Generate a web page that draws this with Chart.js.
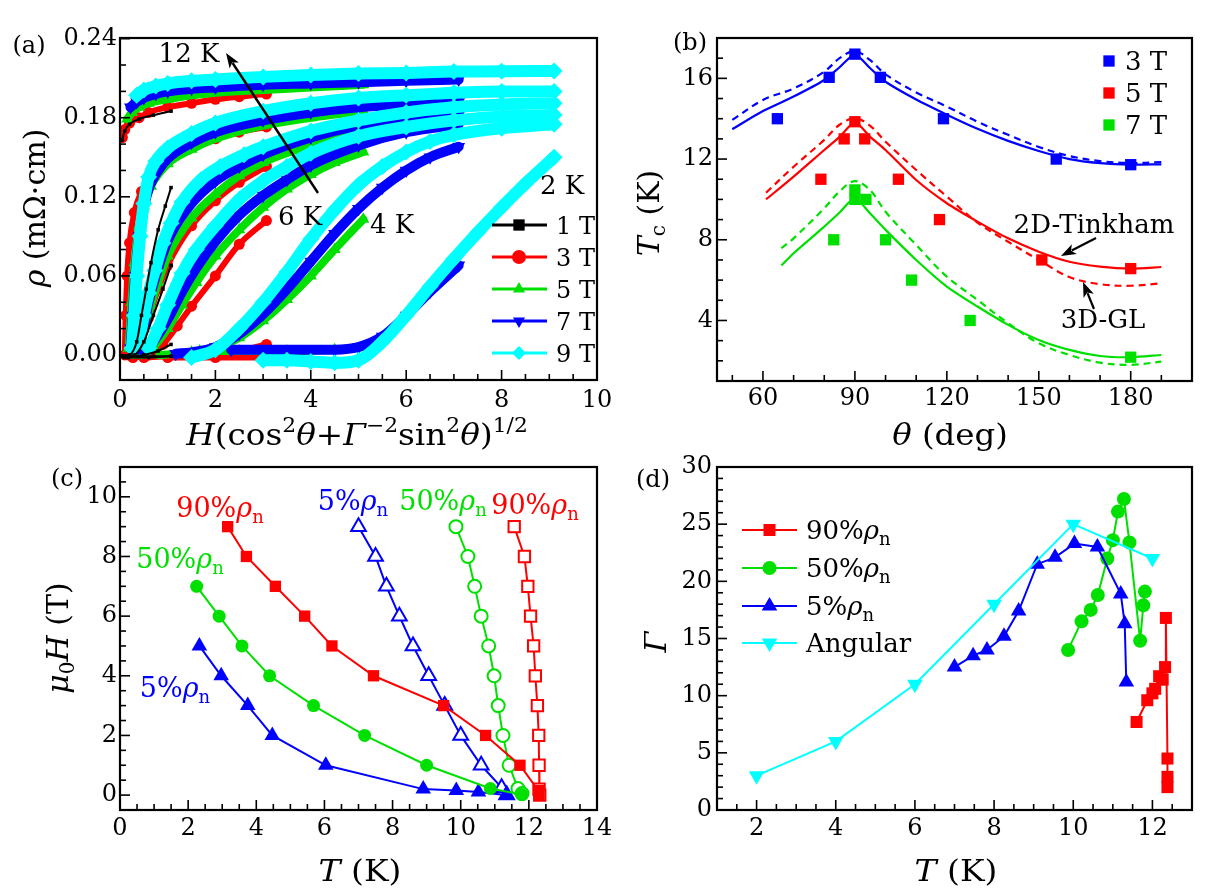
<!DOCTYPE html>
<html>
<head>
<meta charset="utf-8">
<title>Figure</title>
<script src="https://cdn.jsdelivr.net/npm/chart.js@4.4.1/dist/chart.umd.min.js"></script>
<style>
html,body{margin:0;padding:0;background:#fff;}
#wrap{position:relative;width:1222px;height:893px;overflow:hidden;background:#fff;}
#wrap canvas{position:absolute;left:0;top:0;}
</style>
</head>
<body>
<div id="wrap">
  <canvas id="ca" width="1222" height="893"></canvas>
  <canvas id="cb" width="1222" height="893"></canvas>
  <canvas id="cc" width="1222" height="893"></canvas>
  <canvas id="cd" width="1222" height="893"></canvas>
</div>
<script>
// ================= DATA =================
// ---- Panel (a): rho (mOhm cm) vs H(cos^2 + G^-2 sin^2)^1/2, at several temperatures, fields 1,3,5,7,9 T
const aTicksX = [0, 2, 4, 6, 8, 10];
const aTicksY = [0, 0.06, 0.12, 0.18, 0.24];

const a12K_1T = [[0.045,0.163],[0.1,0.170],[0.2,0.175],[0.4,0.179],[0.7,0.182],[1.07,0.185]];
const a12K_3T = [[0.05,0.165],[0.1,0.171],[0.2,0.176],[0.4,0.180],[0.6,0.184],[1,0.188],[1.5,0.191],[2,0.194],[2.5,0.196],[3.07,0.198]];
const a12K_5T = [[0.15,0.179],[0.25,0.184],[0.4,0.188],[0.6,0.191],[1,0.194],[1.5,0.197],[2,0.199],[3,0.201],[4,0.203],[5.1,0.205]];
const a12K_7T = [[0.22,0.188],[0.35,0.192],[0.5,0.195],[0.75,0.198],[1,0.200],[1.5,0.202],[2,0.203],[3,0.205],[4,0.206],[5,0.207],[6,0.208],[7.1,0.209]];
const a12K_9T = [[0.35,0.197],[0.5,0.201],[0.75,0.204],[1,0.206],[1.5,0.208],[2,0.209],[3,0.211],[4,0.2125],[5,0.2135],[6,0.214],[7,0.215],[8,0.2152],[9.1,0.2155]];

const a10K_1T = [[0.04,-0.001],[0.2,0.0],[0.35,0.01],[0.45,0.03],[0.55,0.05],[0.65,0.07],[0.8,0.095],[0.95,0.113],[1.07,0.127]];
const a10K_3T = [[0.1,0.0],[0.12,0.03],[0.15,0.06],[0.2,0.085],[0.3,0.108],[0.45,0.124],[0.7,0.138],[1,0.148],[1.5,0.158],[2,0.164],[2.5,0.169],[3.07,0.173]];
const a10K_5T = [[0.18,0.005],[0.24,0.04],[0.3,0.07],[0.4,0.098],[0.5,0.113],[0.65,0.128],[1,0.145],[1.5,0.156],[2,0.164],[3,0.174],[4,0.180],[5.1,0.185]];
const a10K_7T = [[0.22,0.005],[0.27,0.03],[0.32,0.06],[0.4,0.09],[0.5,0.112],[0.62,0.128],[0.8,0.140],[1,0.149],[1.5,0.161],[2,0.169],[3,0.178],[4,0.184],[5,0.188],[6,0.190],[7.1,0.192]];
const a10K_9T = [[0.25,0.005],[0.3,0.03],[0.35,0.06],[0.42,0.09],[0.5,0.115],[0.6,0.135],[0.75,0.147],[1,0.157],[1.5,0.168],[2,0.176],[3,0.185],[4,0.191],[5,0.195],[6,0.197],[7,0.199],[8,0.200],[9.1,0.200]];

const a8K_1T = [[0.056,-0.001],[0.3,0.0],[0.5,0.01],[0.7,0.03],[0.9,0.05],[1.07,0.068]];
const a8K_3T = [[0.17,0.0],[0.3,0.003],[0.45,0.012],[0.6,0.028],[0.8,0.05],[1,0.068],[1.5,0.098],[2,0.117],[2.5,0.131],[3.07,0.143]];
const a8K_5T = [[0.28,0.0],[0.4,0.01],[0.5,0.02],[0.65,0.038],[0.8,0.055],[1,0.075],[1.5,0.104],[2,0.122],[2.5,0.136],[3,0.146],[4,0.159],[5.1,0.168]];
const a8K_7T = [[0.39,0.005],[0.5,0.022],[0.6,0.04],[0.75,0.06],[0.9,0.077],[1.07,0.092],[1.5,0.115],[2,0.132],[2.5,0.143],[3,0.152],[4,0.165],[5,0.174],[6,0.179],[7.1,0.182]];
const a8K_9T = [[0.4,0.01],[0.5,0.03],[0.6,0.047],[0.73,0.064],[0.9,0.085],[1.07,0.100],[1.3,0.116],[1.7,0.133],[2.1,0.143],[2.6,0.152],[3,0.158],[4,0.170],[5,0.178],[6,0.184],[7,0.188],[8,0.190],[9.1,0.191]];

const a6K_1T = [[0.09,-0.002],[0.5,0.0],[0.8,0.003],[1.07,0.008]];
const a6K_3T = [[0.27,-0.002],[0.6,0.0],[0.9,0.008],[1.2,0.022],[1.5,0.037],[2,0.06],[2.5,0.084],[3.07,0.102]];
const a6K_5T = [[0.45,0.0],[0.7,0.006],[1,0.02],[1.3,0.038],[1.6,0.055],[2,0.075],[2.5,0.095],[3,0.112],[3.5,0.126],[4,0.137],[4.5,0.146],[5.1,0.154]];
const a6K_7T = [[0.5,0.003],[0.7,0.01],[1,0.027],[1.3,0.048],[1.6,0.066],[2,0.086],[2.5,0.106],[3,0.121],[3.5,0.133],[4,0.144],[5,0.159],[6,0.169],[7.1,0.175]];
const a6K_9T = [[0.6,0.005],[0.8,0.02],[1,0.038],[1.3,0.062],[1.6,0.08],[2,0.098],[2.5,0.118],[3,0.132],[3.5,0.143],[4,0.153],[5,0.166],[6,0.173],[7,0.178],[8,0.181],[9.1,0.182]];

const a4K_1T = [[0.17,-0.002],[0.6,-0.002],[1.07,-0.001]];
const a4K_3T = [[0.5,-0.002],[1.5,0.0],[2,0.001],[2.5,0.003],[3.07,0.008]];
const a4K_5T = [[0.83,0.0],[1.5,0.002],[2,0.005],[2.5,0.013],[3,0.026],[3.5,0.042],[4,0.060],[4.5,0.080],[5.1,0.103]];
const a4K_7T = [[1.17,0.001],[1.5,0.002],[2,0.006],[2.5,0.016],[3,0.031],[3.5,0.050],[4,0.071],[4.5,0.092],[5,0.111],[5.5,0.127],[6,0.140],[6.5,0.150],[7.1,0.158]];
const a4K_9T = [[1.5,-0.002],[2,0.004],[2.5,0.020],[3,0.040],[3.5,0.063],[4,0.088],[4.5,0.110],[5,0.129],[5.5,0.143],[6,0.154],[6.5,0.162],[7,0.167],[8,0.172],[9.1,0.175]];

const a2K_1T = [[0.33,-0.001],[0.7,-0.001],[1.07,-0.001]];
const a2K_3T = [[1.0,-0.002],[2,-0.002],[3.07,-0.002]];
const a2K_5T = [[1.67,0.003],[2.5,0.003],[3.5,0.003],[4.5,0.004],[5.1,0.006]];
const a2K_7T = [[2.33,0.004],[3,0.004],[4,0.004],[4.5,0.004],[5,0.006],[5.5,0.014],[6,0.030],[6.5,0.048],[7.1,0.068]];
const a2K_9T = [[3.0,-0.004],[3.5,-0.004],[4,-0.005],[4.5,-0.006],[5,-0.004],[5.5,0.010],[6,0.030],[6.5,0.052],[7,0.073],[7.5,0.093],[8,0.112],[8.5,0.130],[9.1,0.150]];

// ---- Panel (b): Tc vs theta
const bTicksX = [60, 90, 120, 150, 180];
const bTicksY = [4, 8, 12, 16];
const b3T = [[64.7,14.0],[81.6,16.05],[90,17.2],[98.3,16.05],[118.9,14.0],[155.7,12.0],[180,11.72]];
const b5T = [[78.9,11.0],[86.5,13.0],[90,13.85],[93.2,13.0],[104.2,11.0],[117.6,9.0],[151,7.0],[180,6.57]];
const b7T = [[83.1,8.0],[90,10.47],[90,10.0],[93.6,10.0],[100,8.0],[108.5,6.0],[127.6,4.0],[180,2.18]];
const bThetaBlue   = [50,60,70,80,85,90,95,100,110,120,130,140,150,160,170,180,190];
const bBlueTinkham = [13.48,14.38,15.1,15.92,16.55,17.18,16.5,15.83,14.95,14.2,13.5,12.9,12.4,12.0,11.8,11.72,11.74];
const bBlueGL      = [13.94,14.93,15.5,16.33,17.0,17.35,16.9,16.2,15.3,14.6,13.85,13.2,12.6,12.15,11.9,11.8,11.85];
const bThetaRed    = [61,70,80,85,90,95,100,110,120,130,140,150,160,170,180,190];
const bRedTinkham  = [10.0,11.13,12.45,13.1,13.82,13.1,12.45,10.96,9.81,8.9,8.07,7.41,6.91,6.67,6.57,6.65];
const bRedGL       = [10.33,11.62,12.95,13.7,14.02,13.65,12.86,11.46,10.14,8.85,7.9,7.0,6.15,5.8,5.72,5.84];
const bThetaGreen  = [66,70,80,85,90,95,100,110,120,130,140,150,160,170,180,190];
const bGreenTinkham= [6.72,7.33,8.65,9.35,10.05,9.3,8.49,7.0,5.68,4.69,3.78,3.03,2.54,2.24,2.18,2.29];
const bGreenGL     = [7.58,8.07,9.56,10.4,10.91,10.45,9.39,7.74,6.17,5.02,3.86,2.87,2.29,1.91,1.8,1.96];

// ---- Panel (c): mu0H (T) vs T (K)
const cTicksX = [0, 2, 4, 6, 8, 10, 12, 14];
const cTicksY = [0, 2, 4, 6, 8, 10];
const c90Left  = [[3.16,9],[3.71,8],[4.56,7],[5.42,6],[6.22,5],[7.44,4],[9.5,3],[10.73,2],[11.74,1],[12.28,0.15],[12.3,0]];
const c50Left  = [[2.25,7],[2.91,6],[3.58,5],[4.39,4],[5.68,3],[7.18,2],[9.0,1],[10.87,0.22],[11.79,0.02]];
const c5Left   = [[2.33,5],[2.97,4],[3.75,3],[4.47,2],[6.04,1],[8.9,0.2],[9.87,0.15],[10.52,0.1],[11.33,0]];
const c5Right  = [[7.0,9],[7.5,8],[7.82,7],[8.2,6],[8.6,5],[9.06,4],[9.53,3],[10.0,2],[10.6,1],[11.2,0.25],[11.35,0]];
const c50Right = [[9.86,9],[10.21,8],[10.41,7],[10.6,6],[10.82,5],[10.98,4],[11.1,3],[11.24,2],[11.42,1],[11.68,0.22],[11.8,0.05]];
const c90Right = [[11.57,9],[11.87,8],[11.97,7],[12.05,6],[12.14,5],[12.19,4],[12.25,3],[12.29,2],[12.3,1],[12.3,0.2],[12.32,0]];

// ---- Panel (d): Gamma vs T (K)
const dTicksX = [2, 4, 6, 8, 10, 12];
const dTicksY = [0, 5, 10, 15, 20, 25, 30];
const d90  = [[11.6,7.7],[11.87,9.6],[12.0,10.2],[12.07,10.6],[12.17,11.7],[12.26,11.4],[12.32,12.5],[12.34,16.8],[12.38,4.5],[12.38,2.9],[12.38,2.0]];
const d50  = [[9.87,14.0],[10.21,16.5],[10.44,17.5],[10.62,18.8],[10.86,22.0],[11.0,23.6],[11.13,26.1],[11.28,27.2],[11.42,23.4],[11.69,14.8],[11.77,17.9],[11.81,19.1]];
const d5   = [[7.0,12.5],[7.47,13.5],[7.82,14.0],[8.25,15.2],[8.62,17.4],[9.09,21.5],[9.54,22.1],[10.03,23.3],[10.61,23.0],[11.2,18.9],[11.3,16.3],[11.34,11.2]];
const dAng = [[2,3],[4,6],[6,11],[8,18],[10,25],[12,22]];

// ================= STYLE / HELPERS =================
const FONT = '"DejaVu Serif", "Liberation Serif", serif';
const RED = '#ff0000', GREEN = '#00e000', BLUE = '#0000ff', CYAN = '#00ffff', BLACK = '#000000';
const TICKSIZE = 24, TITLESIZE = 30;
const W = 1222, H = 893;

function pts(arr){ return arr.map(p => ({x:p[0], y:p[1]})); }
function zipXY(xs, ys){ return xs.map((x,i) => ({x:x, y:ys[i]})); }
function fnt(size, it){ return (it ? 'italic ' : '') + size + 'px ' + FONT; }
function segSize(s, size){ return (s.sup || s.sub) ? Math.round(size*0.68) : size; }
function richWidth(ctx, segs, size){
  let w = 0;
  for (const s of segs){ ctx.font = fnt(segSize(s,size), s.it); w += ctx.measureText(s.t).width; }
  return w;
}
function rich(ctx, segs, x, y, size, o){
  o = o || {};
  ctx.save(); ctx.translate(x, y); if (o.rot) ctx.rotate(o.rot); if (o.sx) ctx.scale(o.sx, 1);
  const w = richWidth(ctx, segs, size);
  let cx = o.align === 'left' ? 0 : (o.align === 'right' ? -w : -w/2);
  ctx.textBaseline = 'alphabetic'; ctx.textAlign = 'left';
  const base = size*0.36;
  for (const s of segs){
    const sz = segSize(s, size);
    ctx.font = fnt(sz, s.it);
    ctx.fillStyle = s.c || o.c || '#000';
    let dy = base;
    if (s.sup) dy -= size*0.42;
    if (s.sub) dy += size*0.22;
    ctx.fillText(s.t, cx, dy);
    cx += ctx.measureText(s.t).width;
  }
  ctx.restore();
}
function arrow(ctx, x1, y1, x2, y2, o){
  o = o || {};
  const a = Math.atan2(y2-y1, x2-x1), L = o.L || 15, Wd = o.W || 5.5;
  ctx.save(); ctx.strokeStyle = '#000'; ctx.fillStyle = '#000'; ctx.lineWidth = o.lw || 2;
  ctx.beginPath(); ctx.moveTo(x1, y1); ctx.lineTo(x2 - Math.cos(a)*L*0.8, y2 - Math.sin(a)*L*0.8); ctx.stroke();
  ctx.beginPath(); ctx.moveTo(x2, y2);
  ctx.lineTo(x2 - Math.cos(a)*L + Math.sin(a)*Wd, y2 - Math.sin(a)*L - Math.cos(a)*Wd);
  ctx.lineTo(x2 - Math.cos(a)*L*0.75, y2 - Math.sin(a)*L*0.75);
  ctx.lineTo(x2 - Math.cos(a)*L - Math.sin(a)*Wd, y2 - Math.sin(a)*L + Math.cos(a)*Wd);
  ctx.closePath(); ctx.fill(); ctx.restore();
}
function marker(ctx, st, x, y, r, fill, stroke, lw){
  ctx.save(); ctx.beginPath();
  if (st === 'rect'){ const s = r*Math.SQRT1_2; ctx.rect(x-s, y-s, 2*s, 2*s); }
  else if (st === 'circle'){ ctx.arc(x, y, r, 0, Math.PI*2); }
  else if (st === 'tri' || st === 'triDown'){
    const sg = st === 'tri' ? 1 : -1;
    for (let k = 0; k < 3; k++){
      const an = k*2*Math.PI/3, px = x + Math.sin(an)*r, py = y - sg*Math.cos(an)*r;
      if (k) ctx.lineTo(px, py); else ctx.moveTo(px, py);
    }
    ctx.closePath();
  }
  else if (st === 'diamond'){ ctx.moveTo(x, y-r); ctx.lineTo(x+r, y); ctx.lineTo(x, y+r); ctx.lineTo(x-r, y); ctx.closePath(); }
  if (fill){ ctx.fillStyle = fill; ctx.fill(); }
  if (stroke){ ctx.strokeStyle = stroke; ctx.lineWidth = lw || 2; ctx.stroke(); }
  ctx.restore();
}
function drawFrameTicks(chart, sp){
  const ctx = chart.ctx, ca = chart.chartArea, xs = chart.scales.x, ys = chart.scales.y;
  ctx.save(); ctx.strokeStyle = '#000'; ctx.lineWidth = 1.6;
  const near = (v, m) => Math.abs(v/m - Math.round(v/m)) < 1e-6;
  for (let i = Math.ceil(xs.min/sp.xMinor - 1e-9); i*sp.xMinor <= xs.max + 1e-9; i++){
    const v = i*sp.xMinor, px = xs.getPixelForValue(v), len = near(v, sp.xMajor) ? 10 : 6;
    ctx.beginPath(); ctx.moveTo(px, ca.bottom); ctx.lineTo(px, ca.bottom - len); ctx.stroke();
  }
  for (let i = Math.ceil(ys.min/sp.yMinor - 1e-9); i*sp.yMinor <= ys.max + 1e-9; i++){
    const v = i*sp.yMinor, py = ys.getPixelForValue(v), len = near(v, sp.yMajor) ? 10 : 6;
    ctx.beginPath(); ctx.moveTo(ca.left, py); ctx.lineTo(ca.left + len, py); ctx.stroke();
  }
  ctx.lineWidth = 2.2;
  ctx.strokeRect(ca.left, ca.top, ca.right - ca.left, ca.bottom - ca.top);
  ctx.restore();
}
function deco(id, sp, draw){
  return { id: id, afterDraw(chart){ drawFrameTicks(chart, sp); draw(chart.ctx, chart); } };
}
function axisOpts(min, max, ticksArr, fmt, isX, size, pad){
  return {
    type: 'linear', min: min, max: max,
    grid: { display: false, drawTicks: false }, border: { display: false },
    afterBuildTicks: s => { s.ticks = ticksArr.map(v => ({ value: v })); },
    afterFit: s => {
      if (isX){ s.height = size; s.paddingLeft = 0; s.paddingRight = 0; }
      else { s.width = size; s.paddingTop = 0; s.paddingBottom = 0; }
    },
    ticks: { font: { family: FONT, size: TICKSIZE }, color: '#000', padding: pad, maxRotation: 0, minRotation: 0, autoSkip: false,
             callback: v => fmt(v) }
  };
}
// area = plot box [left, top, right, bottom] in page pixels; yw / xh = axis band sizes
function baseOptions(area, yw, xh, xAxis, yAxis){
  return {
    responsive: false, animation: false, events: [],
    layout: { padding: { left: area[0] - yw, top: area[1], right: W - area[2], bottom: H - area[3] - xh } },
    plugins: { legend: { display: false }, tooltip: { enabled: false }, title: { display: false } },
    scales: { x: xAxis, y: yAxis }
  };
}
const rhoN = (pre, c) => [{t: pre, c: c}, {t: 'ρ', it: true, c: c}, {t: 'n', sub: true, c: c}];

// ================= PANEL (a) =================
const aFieldStyle = [
  { lab: '1 T', c: BLACK, ps: 'rect',     rot: 0,   bw: 2,  r: 2.5, ord: 0, lm: 'rect' },
  { lab: '3 T', c: RED,   ps: 'circle',   rot: 0,   bw: 6,  r: 5.5, ord: 4, lm: 'circle' },
  { lab: '5 T', c: GREEN, ps: 'triangle', rot: 0,   bw: 8,  r: 7,   ord: 3, lm: 'tri' },
  { lab: '7 T', c: BLUE,  ps: 'triangle', rot: 180, bw: 10, r: 7.5, ord: 2, lm: 'triDown' },
  { lab: '9 T', c: CYAN,  ps: 'rectRot',  rot: 0,   bw: 12, r: 8.5, ord: 1, lm: 'diamond' }
];
const aCurves = [
  [a12K_1T, a12K_3T, a12K_5T, a12K_7T, a12K_9T],
  [a10K_1T, a10K_3T, a10K_5T, a10K_7T, a10K_9T],
  [a8K_1T,  a8K_3T,  a8K_5T,  a8K_7T,  a8K_9T],
  [a6K_1T,  a6K_3T,  a6K_5T,  a6K_7T,  a6K_9T],
  [a4K_1T,  a4K_3T,  a4K_5T,  a4K_7T,  a4K_9T],
  [a2K_1T,  a2K_3T,  a2K_5T,  a2K_7T,  a2K_9T]
];
const dsA = [];
aCurves.forEach(row => row.forEach((arr, i) => {
  const f = aFieldStyle[i];
  dsA.push({ label: f.lab, data: pts(arr), showLine: true, borderColor: f.c, backgroundColor: f.c,
    borderWidth: f.bw, pointRadius: f.r, pointStyle: f.ps, pointRotation: f.rot, pointBorderWidth: 0,
    cubicInterpolationMode: 'monotone', order: f.ord, borderCapStyle: 'round', borderJoinStyle: 'round' });
}));
new Chart(document.getElementById('ca'), {
  type: 'scatter',
  data: { datasets: dsA },
  options: baseOptions([120, 38, 597, 380], 120, 67,
    axisOpts(0, 10, aTicksX, v => String(v), true, 67, 6),
    axisOpts(-0.019, 0.2405, aTicksY, v => v.toFixed(2), false, 120, 3)),
  plugins: [deco('decoA', { xMinor: 0.5, xMajor: 2, yMinor: 0.02, yMajor: 0.06 }, (ctx) => {
    rich(ctx, [{t: '(a)'}], 29, 44, 24);
    rich(ctx, [{t: '12 K'}], 189, 53, 26);
    arrow(ctx, 318, 193, 226, 53, { lw: 2.4 });
    rich(ctx, [{t: '6 K'}], 300, 216, 26);
    rich(ctx, [{t: '4 K'}], 392, 224, 26);
    rich(ctx, [{t: '2 K'}], 562, 185, 26);
    const rows = [225, 257, 289, 321, 353];
    aFieldStyle.forEach((f, i) => {
      const y = rows[i];
      ctx.save(); ctx.strokeStyle = f.c; ctx.lineWidth = 3; ctx.beginPath(); ctx.moveTo(492, y); ctx.lineTo(547, y); ctx.stroke(); ctx.restore();
      marker(ctx, f.lm, 519, y, f.lm === 'rect' ? 8 : 7, f.c);
      rich(ctx, [{t: f.lab}], 556, y, 24, { align: 'left' });
    });
    rich(ctx, [{t: 'H', it: true}, {t: '(cos'}, {t: '2', sup: true}, {t: 'θ', it: true}, {t: '+'}, {t: 'Γ', it: true},
               {t: '−2', sup: true}, {t: 'sin'}, {t: '2', sup: true}, {t: 'θ', it: true}, {t: ')'}, {t: '1/2', sup: true}],
         357, 434, TITLESIZE, { sx: 1.09 });
    rich(ctx, [{t: 'ρ', it: true}, {t: ' (mΩ·cm)'}], 34, 208, TITLESIZE, { rot: -Math.PI/2 });
  })]
});

// ================= PANEL (b) =================
const dsB = [
  { label: '3 T', data: pts(b3T), pointStyle: 'rect', pointRadius: 8, backgroundColor: BLUE, borderColor: BLUE, pointBorderWidth: 0, order: 0 },
  { label: '5 T', data: pts(b5T), pointStyle: 'rect', pointRadius: 8, backgroundColor: RED, borderColor: RED, pointBorderWidth: 0, order: 0 },
  { label: '7 T', data: pts(b7T), pointStyle: 'rect', pointRadius: 8, backgroundColor: GREEN, borderColor: GREEN, pointBorderWidth: 0, order: 0 },
  { label: '3 T 2D-Tinkham', data: zipXY(bThetaBlue, bBlueTinkham), showLine: true, pointRadius: 0, borderColor: BLUE, borderWidth: 2.2, tension: 0.25, order: 1 },
  { label: '3 T 3D-GL', data: zipXY(bThetaBlue, bBlueGL), showLine: true, pointRadius: 0, borderColor: BLUE, borderWidth: 2.2, borderDash: [7, 5], tension: 0.35, order: 1 },
  { label: '5 T 2D-Tinkham', data: zipXY(bThetaRed, bRedTinkham), showLine: true, pointRadius: 0, borderColor: RED, borderWidth: 2.2, tension: 0.25, order: 1 },
  { label: '5 T 3D-GL', data: zipXY(bThetaRed, bRedGL), showLine: true, pointRadius: 0, borderColor: RED, borderWidth: 2.2, borderDash: [7, 5], tension: 0.35, order: 1 },
  { label: '7 T 2D-Tinkham', data: zipXY(bThetaGreen, bGreenTinkham), showLine: true, pointRadius: 0, borderColor: GREEN, borderWidth: 2.2, tension: 0.25, order: 1 },
  { label: '7 T 3D-GL', data: zipXY(bThetaGreen, bGreenGL), showLine: true, pointRadius: 0, borderColor: GREEN, borderWidth: 2.2, borderDash: [7, 5], tension: 0.35, order: 1 }
];
new Chart(document.getElementById('cb'), {
  type: 'scatter',
  data: { datasets: dsB },
  options: baseOptions([717, 38, 1192, 381], 106, 66,
    axisOpts(45, 200, bTicksX, v => String(v), true, 66, 3),
    axisOpts(1, 18, bTicksY, v => String(v), false, 106, 4)),
  plugins: [deco('decoB', { xMinor: 10, xMajor: 30, yMinor: 1, yMajor: 4 }, (ctx) => {
    rich(ctx, [{t: '(b)'}], 690, 41, 24);
    [[BLUE, '3 T', 61], [RED, '5 T', 93], [GREEN, '7 T', 125]].forEach(r => {
      marker(ctx, 'rect', 1109, r[2], 8, r[0]);
      rich(ctx, [{t: r[1]}], 1125, r[2], 26, { align: 'left' });
    });
    rich(ctx, [{t: '2D-Tinkham'}], 1094, 224, 26);
    arrow(ctx, 1096, 238, 1061, 256, { lw: 2.2 });
    rich(ctx, [{t: '3D-GL'}], 1103, 319, 26);
    arrow(ctx, 1094, 309, 1083, 282, { lw: 2.2 });
    rich(ctx, [{t: 'θ', it: true}, {t: ' (deg)'}], 950, 434, TITLESIZE, { sx: 1.08 });
    rich(ctx, [{t: 'T', it: true}, {t: 'c', sub: true}, {t: ' (K)'}], 648, 213, TITLESIZE, { rot: -Math.PI/2 });
  })]
});

// ================= PANEL (c) =================
function lineDs(label, arr, color, ps, r, open, rot){
  return { label: label, data: pts(arr), showLine: true, borderColor: color, borderWidth: 2, tension: 0,
    pointStyle: ps, pointRadius: r, pointRotation: rot || 0,
    pointBackgroundColor: open ? '#ffffff' : color, pointBorderColor: color, pointBorderWidth: open ? 2 : 0 };
}
new Chart(document.getElementById('cc'), {
  type: 'scatter',
  data: { datasets: [
    lineDs('90% rho_n (left)', c90Left, RED, 'rect', 8, false),
    lineDs('50% rho_n (left)', c50Left, GREEN, 'circle', 6.5, false),
    lineDs('5% rho_n (left)', c5Left, BLUE, 'triangle', 9, false),
    lineDs('5% rho_n (right)', c5Right, BLUE, 'triangle', 8.5, true),
    lineDs('50% rho_n (right)', c50Right, GREEN, 'circle', 6.5, true),
    lineDs('90% rho_n (right)', c90Right, RED, 'rect', 8, true)
  ]},
  options: baseOptions([120, 467, 597, 810], 120, 83,
    axisOpts(0, 14, cTicksX, v => String(v), true, 83, 4),
    axisOpts(-0.5, 11, cTicksY, v => String(v), false, 120, 3)),
  plugins: [deco('decoC', { xMinor: 0.5, xMajor: 2, yMinor: 0.5, yMajor: 2 }, (ctx) => {
    rich(ctx, [{t: '(c)'}], 67, 477, 24);
    rich(ctx, rhoN('90%', RED), 220, 507, 27);
    rich(ctx, rhoN('5%', BLUE), 353, 500, 27);
    rich(ctx, rhoN('50%', GREEN), 443, 500, 27);
    rich(ctx, rhoN('90%', RED), 535, 504, 27);
    rich(ctx, rhoN('50%', GREEN), 180, 558, 27);
    rich(ctx, rhoN('5%', BLUE), 175, 687, 27);
    rich(ctx, [{t: 'T', it: true}, {t: ' (K)'}], 360, 870, TITLESIZE, { sx: 1.1 });
    rich(ctx, [{t: 'μ', it: true}, {t: '0', sub: true}, {t: 'H', it: true}, {t: ' (T)'}], 57, 638, TITLESIZE, { rot: -Math.PI/2 });
  })]
});

// ================= PANEL (d) =================
const dLegend = [
  { segs: rhoN('90%'), c: RED, m: 'rect', r: 8.5 },
  { segs: rhoN('50%'), c: GREEN, m: 'circle', r: 7 },
  { segs: rhoN('5%'), c: BLUE, m: 'tri', r: 9 },
  { segs: [{t: 'Angular'}], c: CYAN, m: 'triDown', r: 9 }
];
new Chart(document.getElementById('cd'), {
  type: 'scatter',
  data: { datasets: [
    lineDs('Angular', dAng, CYAN, 'triangle', 9, false, 180),
    lineDs('5% rho_n', d5, BLUE, 'triangle', 9, false),
    lineDs('50% rho_n', d50, GREEN, 'circle', 7, false),
    lineDs('90% rho_n', d90, RED, 'rect', 8.5, false)
  ]},
  options: baseOptions([717, 467, 1192, 810], 106, 83,
    axisOpts(1, 13, dTicksX, v => String(v), true, 83, 4),
    axisOpts(0, 30, dTicksY, v => String(v), false, 106, 5)),
  plugins: [deco('decoD', { xMinor: 0.5, xMajor: 2, yMinor: 1, yMajor: 5 }, (ctx) => {
    rich(ctx, [{t: '(d)'}], 653, 478, 24);
    const rows = [530, 568, 606, 643];
    dLegend.forEach((l, i) => {
      const y = rows[i];
      ctx.save(); ctx.strokeStyle = l.c; ctx.lineWidth = 2.2; ctx.beginPath(); ctx.moveTo(742, y); ctx.lineTo(797, y); ctx.stroke(); ctx.restore();
      marker(ctx, l.m, 769.5, y, l.r, l.c);
      rich(ctx, l.segs, 806, y, 26, { align: 'left' });
    });
    rich(ctx, [{t: 'T', it: true}, {t: ' (K)'}], 956, 870, TITLESIZE, { sx: 1.1 });
    rich(ctx, [{t: 'Γ', it: true}], 655, 642, TITLESIZE, { rot: -Math.PI/2 });
  })]
});
</script>
</body>
</html>
